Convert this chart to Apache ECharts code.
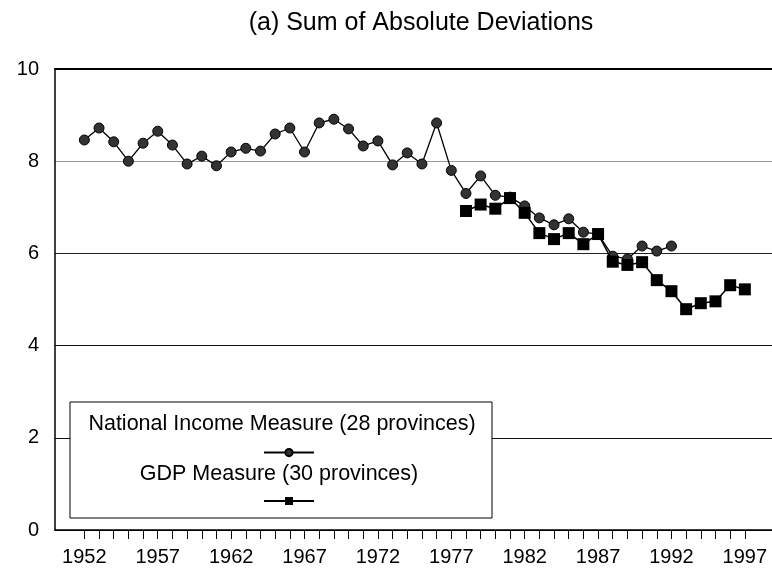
<!DOCTYPE html>
<html>
<head>
<meta charset="utf-8">
<title>Sum of Absolute Deviations</title>
<script src="https://cdn.jsdelivr.net/npm/echarts@6/dist/echarts.min.js"></script>
<style>
  html, body { margin: 0; padding: 0; background: #fff; }
  #chart { width: 772px; height: 572px; }
</style>
</head>
<body>
<div id="chart"></div>
<script>
// national income measure, 1952-1992
var niStart = 1952;
var niValues = [8.46, 8.72, 8.42, 8.00, 8.39, 8.65, 8.35, 7.94, 8.11, 7.90,
                8.20, 8.28, 8.22, 8.59, 8.72, 8.20, 8.83, 8.91, 8.70, 8.33,
                8.44, 7.92, 8.18, 7.94, 8.83, 7.80, 7.30, 7.68, 7.26, 7.22,
                7.03, 6.77, 6.62, 6.75, 6.46, 6.42, 5.94, 5.88, 6.16, 6.05,
                6.16];

// gdp measure, 1978-1997
var gdpStart = 1978;
var gdpValues = [6.92, 7.06, 6.97, 7.20, 6.88, 6.44, 6.31, 6.44, 6.20, 6.42,
                 5.82, 5.75, 5.81, 5.42, 5.18, 4.79, 4.92, 4.96, 5.31, 5.22];

var labelYears = [1952, 1957, 1962, 1967, 1972, 1977, 1982, 1987, 1992, 1997];
var firstTick = 1952, lastTick = 1997;

var niName = 'National Income Measure (28 provinces)';
var gdpName = 'GDP Measure (30 provinces)';

function pairs(start, vals) {
	return vals.map(function (v, i) { return [start + i, v]; });
}

var tickYears = [];
for (var y = firstTick; y <= lastTick; y++) tickYears.push(y);

var font = 'Liberation Sans, Arial, sans-serif';

var myChart = echarts.init(document.getElementById('chart'));

var option = {
	animation: false,
	backgroundColor: '#fff',
	title: {
		text: '(a) Sum of Absolute Deviations',
		left: 416,
		top: 6,
		textAlign: 'center',
		textStyle: { fontFamily: font, fontSize: 25, fontWeight: 'normal', color: '#000' }
	},
	grid: { left: 55, right: 0, top: 69, bottom: 42 },
	xAxis: [{
		type: 'value',
		min: 1950,
		max: 1998.85,
		splitLine: { show: false },
		axisLine: { lineStyle: { color: '#000', width: 1.5 } },
		axisTick: { customValues: tickYears, length: 9, lineStyle: { color: '#000', width: 1 } },
		axisLabel: {
			customValues: labelYears,
			margin: 17,
			formatter: function (v) { return String(v); },
			fontFamily: font, fontSize: 20, color: '#000'
		}
	}, {
		type: 'value',
		position: 'top',
		min: 1950,
		max: 1998.85,
		splitLine: { show: false },
		axisTick: { show: false },
		axisLabel: { show: false },
		axisLine: { lineStyle: { color: '#000', width: 2 } }
	}],
	yAxis: {
		type: 'value',
		min: 0,
		max: 10,
		interval: 2,
		axisLine: { show: true, lineStyle: { color: '#000', width: 1.5 } },
		axisTick: { show: false },
		axisLabel: { margin: 16, fontFamily: font, fontSize: 20, color: '#000' },
		splitLine: {
			lineStyle: { color: ['#000', '#111', '#111', '#222', '#999', '#000'], width: 1.2 }
		}
	},
	legend: [{
		data: [niName],
		left: 258,
		top: 443,
		itemWidth: 50,
		itemHeight: 9,
		formatter: function () { return ''; },
		z: 20
	}, {
		data: [gdpName],
		left: 258,
		top: 491,
		itemWidth: 50,
		itemHeight: 10,
		formatter: function () { return ''; },
		z: 20
	}],
	graphic: [{
		type: 'rect',
		z: 10,
		shape: { x: 70, y: 402, width: 422, height: 116 },
		style: { fill: '#fff', stroke: '#000', lineWidth: 1 }
	}, {
		type: 'text',
		z: 11,
		x: 282, y: 424,
		style: { text: niName, font: '21.5px ' + font, fill: '#000', align: 'center', verticalAlign: 'middle' }
	}, {
		type: 'text',
		z: 11,
		x: 279, y: 474,
		style: { text: gdpName, font: '21.5px ' + font, fill: '#000', align: 'center', verticalAlign: 'middle' }
	}],
	series: [{
		name: niName,
		type: 'line',
		data: pairs(niStart, niValues),
		symbol: 'circle',
		symbolSize: 10,
		lineStyle: { color: '#000', width: 1.3 },
		itemStyle: { color: '#333', borderColor: '#000', borderWidth: 1 },
		z: 2
	}, {
		name: gdpName,
		type: 'line',
		data: pairs(gdpStart, gdpValues),
		symbol: 'rect',
		symbolSize: 12,
		lineStyle: { color: '#000', width: 1.5 },
		itemStyle: { color: '#000' },
		z: 3
	}]
};

myChart.setOption(option);
</script>
</body>
</html>
